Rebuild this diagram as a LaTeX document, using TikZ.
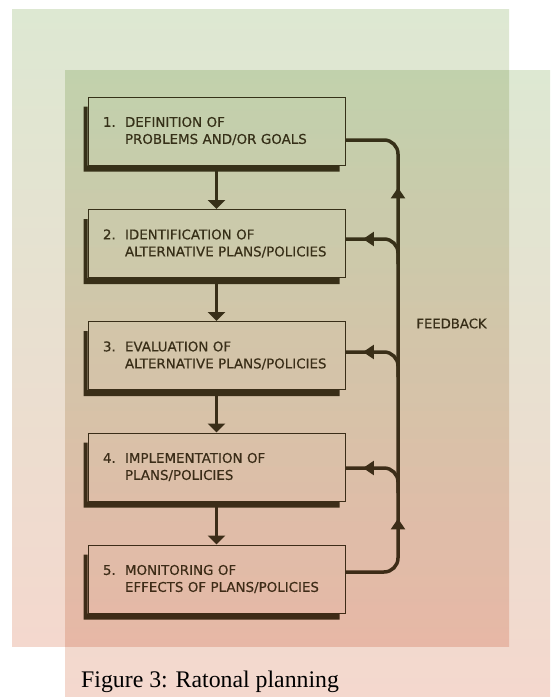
\documentclass[tikz,border=0pt]{standalone}
\usepackage{fontspec}
\setmainfont{Liberation Serif}
\newfontfamily\chartfont[FakeBold=0.5]{DejaVu Sans}
\usepackage{tikz}
\usetikzlibrary{positioning, arrows.meta, calc, decorations.markings}
\usepackage{xcolor}
\definecolor{Ink}{HTML}{463D25}
\definecolor{TintTop}{RGB}{221,232,210}
\definecolor{TintBot}{RGB}{244,216,206}

\newcommand{\stagetext}[3]{\makebox[22pt][l]{#1}#2\\\hspace*{22pt}#3}

\begin{document}
\begin{tikzpicture}[
    x=1pt, y=-1pt,
    stagebox/.style={draw=Ink, line width=1pt, minimum width=257pt, minimum height=68pt, text width=227pt, inner xsep=15pt, align=left, text=Ink, font=\chartfont\fontsize{13.4}{17}\selectfont},
    ledge/.style={fill=Ink},
    flow/.style={-{Triangle[width=17pt,length=9pt]}, line width=3.5pt, Ink},
    fbline/.style={line width=3.5pt, Ink, rounded corners=14pt},
    uptips/.style={postaction={decorate}, decoration={markings,
        mark=at position 100pt with {\arrow{Triangle[width=14pt,length=11pt]}},
        mark=at position 431pt with {\arrow{Triangle[width=14pt,length=11pt]}}}},
    lefttip/.style={postaction={decorate}, decoration={markings,
        mark=at position 54pt with {\arrow{Triangle[width=14pt,length=11pt]}}}},
    tint/.style={top color=TintTop, bottom color=TintBot, draw=none, blend mode=multiply},
    every node/.style={font=\chartfont}
]
\useasboundingbox (0,0) rectangle (550,697);

% Stages
\node[stagebox] (stage1) at (216.5,131) {\stagetext{1.}{DEFINITION OF}{PROBLEMS AND/OR GOALS}};
\node[stagebox] (stage2) at (216.5,243.5) {\stagetext{2.}{IDENTIFICATION OF}{ALTERNATIVE PLANS/POLICIES}};
\node[stagebox] (stage3) at (216.5,355.5) {\stagetext{3.}{EVALUATION OF}{ALTERNATIVE PLANS/POLICIES}};
\node[stagebox] (stage4) at (216.5,467) {\stagetext{4.}{IMPLEMENTATION OF}{PLANS/POLICIES}};
\node[stagebox] (stage5) at (216.5,579) {\stagetext{5.}{MONITORING OF}{EFFECTS OF PLANS/POLICIES}};

% heavy left and bottom edges
\foreach \i in {1,...,5}
  \fill[ledge] ([shift={(-4pt,-10pt)}]stage\i.north west) -- ([shift={(-4pt,-6pt)}]stage\i.south west)
    -- ([shift={(-6pt,-6pt)}]stage\i.south east) -- ([xshift=-6pt]stage\i.south east)
    -- (stage\i.south west) -- ([yshift=-10pt]stage\i.north west) -- cycle;

% Flow down
\foreach \a/\b in {1/2,2/3,3/4,4/5}
  \draw[flow] (stage\a) -- (stage\b);

% Feedback
\coordinate (fbmid) at (398,350);
\coordinate (fb2) at (398,264);
\coordinate (fb3) at (398,377);
\coordinate (fb4) at (398,493);
\draw[fbline, uptips] ([yshift=7pt]stage5.east) -| (fbmid) |- ([yshift=-9pt]stage1.east);
\draw[fbline, lefttip] (fb2) |- ([yshift=4.5pt]stage2.east);
\draw[fbline, lefttip] (fb3) |- ([yshift=3.5pt]stage3.east);
\draw[fbline, lefttip] (fb4) |- ([yshift=-1pt]stage4.east);
\node[text=Ink, font=\chartfont\fontsize{13.2}{15}\selectfont] (fblabel) at (451.5,323.5) {FEEDBACK};

% Caption
\node[anchor=base west, inner sep=0pt, font=\fontsize{23.8}{28}\selectfont] (caption) at (81,687) {Figure 3: Ratonal planning};

% Tint layers
\shade[tint] (12,9) rectangle (509,646);
\shade[tint] (65,70) rectangle (550,697);

\end{tikzpicture}
\end{document}
